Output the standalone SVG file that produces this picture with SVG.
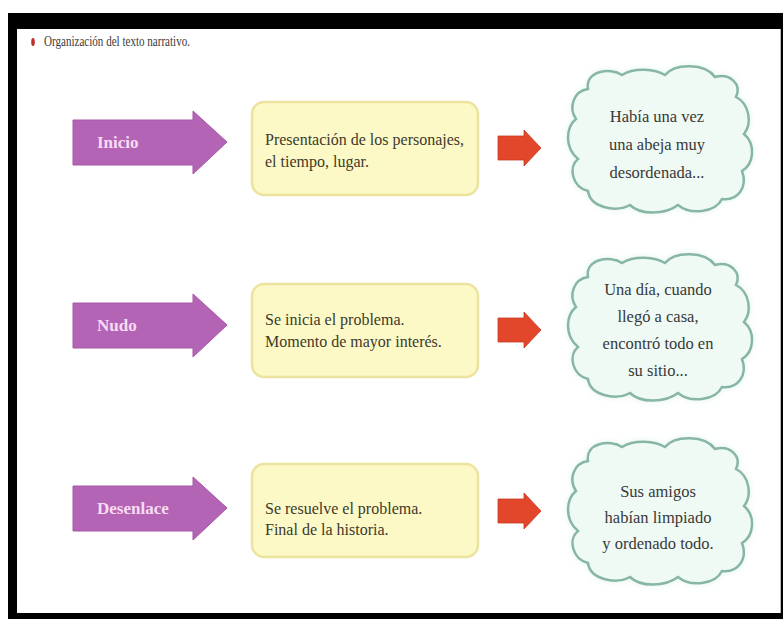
<svg xmlns="http://www.w3.org/2000/svg" width="783" height="619" viewBox="0 0 783 619">
<defs>
<style>
.box{fill:#fdf9c6;stroke:#ece39f;stroke-width:2.5}
.boxt{font-family:"Liberation Serif","Times New Roman",serif;font-size:16px;fill:#3c3a2c}
.parrow{fill:#b464b5;stroke:#a658a8;stroke-width:1}
.plabel{font-family:"Liberation Serif","Times New Roman",serif;font-weight:bold;font-size:17px;fill:#f7dcf3}
.rarrow{fill:#e2472c;stroke:#c83a22;stroke-width:0.8}
.cloud{fill:#effaf5;stroke:#88b6a4;stroke-width:2.5}
.cloudt{font-family:"Liberation Serif","Times New Roman",serif;font-size:16.5px;fill:#383838;text-anchor:middle}
</style>
<path id="cloudShape" d="M -72,-50 C -75,-68 -50,-72 -38,-64 C -25,-72 -5,-70 5,-64 C 15,-76 45,-76 55,-62 C 70,-66 82,-55 76,-42 C 90,-35 92,-15 84,-5 C 96,5 94,25 82,32 C 88,48 78,62 62,60 C 55,74 30,76 18,66 C 5,76 -20,76 -30,66 C -45,74 -70,68 -72,52 C -88,48 -92,28 -82,20 C -96,8 -94,-12 -84,-20 C -92,-32 -86,-48 -72,-50 Z"/>
<filter id="glow" x="-20%" y="-20%" width="140%" height="140%">
<feGaussianBlur in="SourceAlpha" stdDeviation="3"/>
<feFlood flood-color="#cfeee2" flood-opacity="0.6"/>
<feComposite operator="in" in2="SourceAlpha"/>
<feGaussianBlur stdDeviation="3"/>
<feMerge><feMergeNode/><feMergeNode in="SourceGraphic"/></feMerge>
</filter>
</defs>
<rect x="0" y="0" width="783" height="619" fill="#ffffff"/>
<g id="frame">
<rect x="8" y="13" width="775" height="606" fill="#000000"/>
<rect x="17" y="29" width="764" height="584" fill="#ffffff"/>
<line x1="780.5" y1="29" x2="780.5" y2="613" stroke="#bbbbbb" stroke-width="1"/>
</g>
<g id="title">
<ellipse cx="33" cy="42" rx="1.8" ry="4" fill="#b8322a"/>
<text x="44" y="46" font-family="Liberation Serif, Times New Roman, serif" font-size="14" fill="#3a3a3a" textLength="146" lengthAdjust="spacingAndGlyphs">Organización del texto narrativo.</text>
</g>
<g id="inicio">
<polygon class="parrow" points="73,120 193,120 193,111 227,142 193,174 193,165 73,165"/>
<text class="plabel" x="97" y="148">Inicio</text>
</g>
<g id="nudo">
<polygon class="parrow" points="73,303 193,303 193,294 227,325 193,357 193,348 73,348"/>
<text class="plabel" x="97" y="331">Nudo</text>
</g>
<g id="desenlace">
<polygon class="parrow" points="73,486 193,486 193,477 227,508 193,540 193,531 73,531"/>
<text class="plabel" x="97" y="514">Desenlace</text>
</g>
<g id="box-inicio">
<rect class="box" x="252" y="102" width="226" height="93" rx="12"/>
<text class="boxt" x="265" y="145">Presentación de los personajes,</text>
<text class="boxt" x="265" y="167">el tiempo, lugar.</text>
</g>
<g id="box-nudo">
<rect class="box" x="252" y="284" width="226" height="93" rx="12"/>
<text class="boxt" x="265" y="325">Se inicia el problema.</text>
<text class="boxt" x="265" y="347">Momento de mayor interés.</text>
</g>
<g id="box-desenlace">
<rect class="box" x="252" y="464" width="226" height="93" rx="12"/>
<text class="boxt" x="265" y="514">Se resuelve el problema.</text>
<text class="boxt" x="265" y="535">Final de la historia.</text>
</g>
<g id="cloud-inicio" transform="translate(660,139)">
<use href="#cloudShape" class="cloud" filter="url(#glow)"/>
<text class="cloudt" x="-3" y="-17">Había una vez</text>
<text class="cloudt" x="-3" y="11">una abeja muy</text>
<text class="cloudt" x="-3" y="39">desordenada...</text>
</g>
<g id="cloud-nudo" transform="translate(660,327)">
<use href="#cloudShape" class="cloud" filter="url(#glow)"/>
<text class="cloudt" x="-2" y="-32">Una día, cuando</text>
<text class="cloudt" x="-2" y="-5">llegó a casa,</text>
<text class="cloudt" x="-2" y="22">encontró todo en</text>
<text class="cloudt" x="-2" y="49">su sitio...</text>
</g>
<g id="cloud-desenlace" transform="translate(660,511)">
<use href="#cloudShape" class="cloud" filter="url(#glow)"/>
<text class="cloudt" x="-2" y="-14">Sus amigos</text>
<text class="cloudt" x="-2" y="12">habían limpiado</text>
<text class="cloudt" x="-2" y="38">y ordenado todo.</text>
</g>
<g id="connectors">
<polygon class="rarrow" points="498,136 524,136 524,130 541,148 524,166 524,160 498,160"/>
<polygon class="rarrow" points="498,318 524,318 524,312 541,330 524,348 524,342 498,342"/>
<polygon class="rarrow" points="498,499 524,499 524,493 541,511 524,529 524,523 498,523"/>
</g>
</svg>
